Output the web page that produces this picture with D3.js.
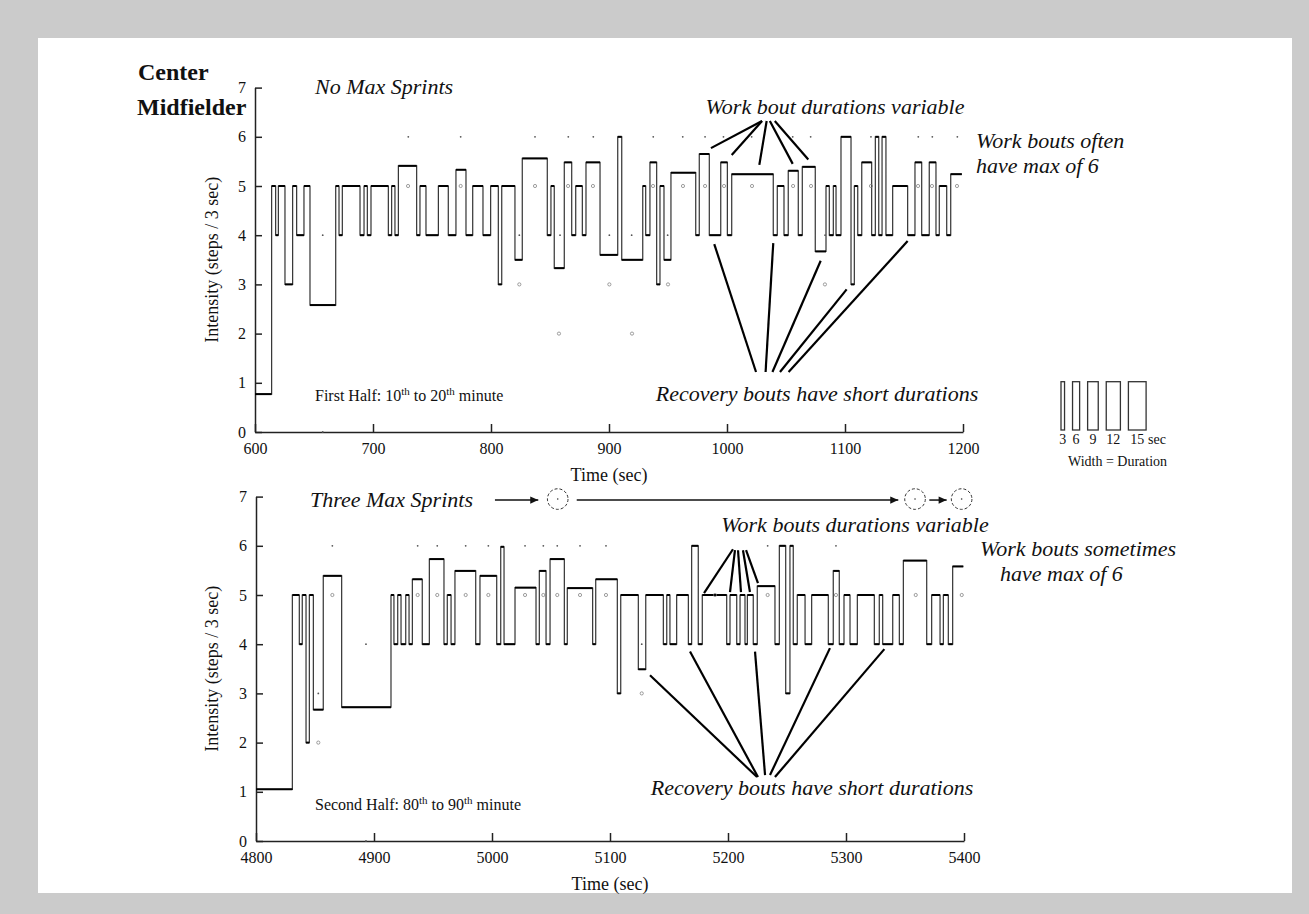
<!DOCTYPE html>
<html lang="en">
<head>
<meta charset="utf-8">
<title>Center Midfielder - work and recovery bouts</title>
<style>
body { margin: 0; background: #cbcbcb; }
svg text { font-family: "Liberation Serif", "Times New Roman", serif; fill: #111; }
.axis path, .axis line { fill: none; stroke: #222; stroke-width: 1.5; }
.axis text { font-size: 16px; font-family: "Liberation Serif", serif; fill: #111; }
.it { font-style: italic; font-size: 22px; }
</style>
</head>
<body>
<div id="chart"></div>
<script src="https://cdn.jsdelivr.net/npm/d3@7"></script>
<script>

// ---- first half (10th to 20th minute) ----
var topStart = [600, 614.1, 617.5, 619.8, 625.4, 631.9, 635.3, 641.5, 646.6, 668.4,
  671.2, 674.0, 689.0, 692.4, 695.2, 698.3, 713.0, 715.8, 718.6, 721.5,
  737.0, 739.8, 744.9, 755.4, 763.8, 770.3, 778.8, 784.5, 793.2, 799.7,
  806.2, 809.1, 820.3, 826.5, 847.7, 850.8, 853.6, 862.1, 868.4, 871.8,
  877.4, 880.5, 892.4, 907.4, 910.8, 928.6, 931.1, 934.7, 940.4, 943.2,
  946.6, 952.5, 973.5, 976.5, 985, 994.7, 1000.3, 1004, 1039.2, 1042.6,
  1048.3, 1051.9, 1060.4, 1063.8, 1074.8, 1083.9, 1086.7, 1090.1, 1092.4, 1096.6,
  1105.1, 1107.9, 1110.8, 1114.2, 1122.6, 1125.7, 1128.6, 1131.4, 1134.7, 1140.4,
  1153.1, 1159.3, 1165, 1171.4, 1177.1, 1179.9, 1186.2, 1189.6];
var topLevel = [0.77, 5, 4, 5, 3, 5, 4, 5, 2.58, 5,
  4, 5, 4, 5, 4, 5, 4, 5, 4, 5.41,
  4, 5, 4, 5, 4, 5.33, 4, 5, 4, 5,
  3, 5, 3.5, 5.56, 4, 5, 3.33, 5.48, 4, 5,
  4, 5.48, 3.6, 6, 3.5, 5, 4, 5.48, 3, 5,
  3.5, 5.27, 4, 5.65, 4, 5.48, 4, 5.24, 4, 5,
  4, 5.31, 4, 5.39, 3.67, 5, 4, 5, 4, 6,
  3, 5, 4, 5.48, 4, 6, 4, 6, 4, 5,
  4, 5.48, 4, 5.48, 4, 5, 4, 5.24];
var topEnd = 1199;
var topDots = [[657.4, 4], [657.4, 0], [729.9, 6], [774.3, 6], [824, 4], [837.3, 6], [858.5, 4],
  [865.5, 6], [886.7, 6], [900.3, 4], [919.2, 4], [937.5, 6], [949.7, 4], [962.5, 6],
  [981.4, 6], [997, 6], [1020.9, 6], [1055.7, 6], [1070.9, 6], [1083.1, 4], [1122, 6],
  [1162.1, 6], [1174, 6], [1195.2, 6]];
var topRings = [[729.7, 5], [774.3, 5], [824, 3], [837.3, 5], [857.6, 2], [865.3, 5],
  [886.4, 5], [900.3, 3], [919.5, 2], [937.3, 5], [950, 3], [962.7, 5], [981.4, 5],
  [997.5, 5], [1021.2, 5], [1056, 5], [1071.2, 5], [1083, 3], [1122, 5], [1161.9, 5],
  [1173.7, 5], [1194.9, 5]];
var topTicks = [600, 700, 800, 900, 1000, 1100, 1200];

// ---- second half (80th to 90th minute) ----
var botStart = [4800, 4830.8, 4836.7, 4839.2, 4842.4, 4845.2, 4848.6, 4857.0, 4872.6, 4914.4,
  4916.9, 4920.1, 4922.9, 4926.9, 4929.7, 4932.5, 4940.9, 4946.9, 4959.3, 4962.1,
  4965.3, 4968.6, 4986.2, 4989.8, 5004.0, 5007.4, 5010.2, 5019.5, 5037.3, 5040.1,
  5045.8, 5049.2, 5061.3, 5063.8, 5085.3, 5087.9, 5106.2, 5109.1, 5124.0, 5130.3,
  5145.2, 5148.1, 5150.8, 5156.5, 5166.4, 5169.2, 5174.8, 5178.2, 5198.9, 5201.7,
  5207.4, 5210.2, 5214.4, 5216.4, 5221.4, 5224.8, 5239.8, 5243.5, 5248.9, 5252.5,
  5255.3, 5258.7, 5265.3, 5270.9, 5285, 5289.2, 5294.3, 5298.3, 5303.4, 5309.6,
  5324, 5328.2, 5331.1, 5339.6, 5345.2, 5348.6, 5368.4, 5372.6, 5379.7, 5382.5,
  5386.7, 5390.4];
var botLevel = [1.05, 5, 4, 5, 2, 5, 2.67, 5.39, 2.72, 5,
  4, 5, 4, 5, 4, 5.32, 4, 5.73, 4, 5,
  4, 5.49, 4, 5.39, 4, 5.98, 4, 5.15, 4, 5.49,
  4, 5.73, 4, 5.14, 4, 5.32, 3, 5, 3.49, 5,
  4, 5, 4, 5, 4, 6, 4, 5, 4, 5,
  4, 5, 4, 5, 4, 5.18, 4, 6, 3, 6,
  4, 5, 4, 5, 4, 5.49, 4, 5, 4, 5,
  4, 5, 4, 5, 4, 5.7, 4, 5, 4, 5,
  4, 5.58];
var botEnd = 5399.4;
var botDots = [[4864.7, 6], [4937.0, 6], [4953.6, 6], [4977.7, 6], [4996.9, 6], [5028.0, 6],
  [5043.5, 6], [5055.3, 6], [5074.6, 6], [5096.6, 6], [5233.6, 6], [5291.5, 6],
  [4893.2, 4], [4893.2, 0], [5126.9, 4], [4852.8, 3]];
var botRings = [[4864.7, 5], [4937.0, 5], [4953.6, 5], [4977.7, 5], [4996.9, 5], [5028.0, 5],
  [5043.5, 5], [5055.3, 5], [5074.6, 5], [5096.6, 5], [5189, 5], [5233.6, 5], [5291.5, 5],
  [5359.1, 5], [5398.1, 5], [4852.8, 2], [5126.9, 3]];
var botTicks = [4800, 4900, 5000, 5100, 5200, 5300, 5400];
var sprints = [[5055.7, 6.95], [5358.5, 6.95], [5398, 6.95]];

var yTicks = [0, 1, 2, 3, 4, 5, 6, 7];
var legendDur = [3, 6, 9, 12, 15];

var svg = d3.select('#chart').append('svg')
  .attr('width', 1309)
  .attr('height', 914);
svg.append('rect').attr('width', 1309).attr('height', 914).attr('fill', '#cbcbcb');
svg.append('rect').attr('x', 38).attr('y', 38).attr('width', 1254).attr('height', 855).attr('fill', '#fff');

svg.append('defs').append('marker')
  .attr('id', 'arrow')
  .attr('viewBox', '0 0 10 10')
  .attr('refX', 10).attr('refY', 5)
  .attr('markerUnits', 'userSpaceOnUse')
  .attr('markerWidth', 11).attr('markerHeight', 8)
  .attr('orient', 'auto')
  .append('path').attr('d', 'M0,0.5L10,5L0,9.5z').attr('fill', '#111');

function panel(o) {
  var x = d3.scaleLinear().domain([o.ticks[0], o.ticks[o.ticks.length - 1]]).range(o.xr);
  var y = d3.scaleLinear().domain([0, 7]).range(o.yr);
  var g = svg.append('g');

  g.append('g').attr('class', 'axis')
    .attr('transform', 'translate(0,' + o.yr[0] + ')')
    .call(d3.axisBottom(x).tickValues(o.ticks).tickSizeInner(-8).tickSizeOuter(0)
      .tickPadding(11).tickFormat(d3.format('d')));
  g.append('g').attr('class', 'axis')
    .attr('transform', 'translate(' + o.xr[0] + ',0)')
    .call(d3.axisLeft(y).tickValues(yTicks).tickSizeInner(-7).tickSizeOuter(0)
      .tickPadding(9).tickFormat(d3.format('d')));

  // bouts as a step line, tops drawn heavier
  var pts = o.starts.map(function(s, i) { return [s, o.levels[i]]; });
  pts.push([o.end, o.levels[o.levels.length - 1]]);
  g.append('path').datum(pts)
    .attr('d', d3.line().x(d => x(d[0])).y(d => y(d[1])).curve(d3.curveStepAfter))
    .attr('fill', 'none').attr('stroke', '#333').attr('stroke-width', 1.2);
  g.selectAll('line.bout').data(o.starts).enter().append('line')
    .attr('x1', d => x(d))
    .attr('x2', (d, i) => x(i + 1 < o.starts.length ? o.starts[i + 1] : o.end))
    .attr('y1', (d, i) => y(o.levels[i]))
    .attr('y2', (d, i) => y(o.levels[i]))
    .attr('stroke', '#000').attr('stroke-width', 2);

  g.selectAll('circle.dot').data(o.dots).enter().append('circle')
    .attr('cx', d => x(d[0])).attr('cy', d => y(d[1])).attr('r', 0.9).attr('fill', '#555');
  g.selectAll('circle.ring').data(o.rings).enter().append('circle')
    .attr('cx', d => x(d[0])).attr('cy', d => y(d[1])).attr('r', 1.6)
    .attr('fill', 'none').attr('stroke', '#777').attr('stroke-width', 0.7);

  // annotation pointer lines, given in data units
  g.selectAll('line.ann').data(o.ann).enter().append('line')
    .attr('x1', d => x(d[0])).attr('y1', d => y(d[1]))
    .attr('x2', d => x(d[2])).attr('y2', d => y(d[3]))
    .attr('stroke', '#000').attr('stroke-width', 2.2);

  g.append('text')
    .attr('transform', 'translate(218,' + ((o.yr[0] + o.yr[1]) / 2) + ') rotate(-90)')
    .attr('text-anchor', 'middle').style('font-size', '18px')
    .text('Intensity (steps / 3 sec)');
  g.append('text')
    .attr('x', (o.xr[0] + o.xr[1]) / 2).attr('y', o.yr[0] + 49)
    .attr('text-anchor', 'middle').style('font-size', '18px')
    .text('Time (sec)');

  var half = g.append('text').attr('x', 315).attr('y', o.yr[0] - 31).style('font-size', '16px');
  half.append('tspan').text(o.half[0]);
  half.append('tspan').attr('dy', -6).style('font-size', '11px').text('th');
  half.append('tspan').attr('dy', 6).text(' to ' + o.half[1]);
  half.append('tspan').attr('dy', -6).style('font-size', '11px').text('th');
  half.append('tspan').attr('dy', 6).text(' minute');

  return { x: x, y: y, g: g };
}

var topP = panel({
  xr: [255, 963], yr: [432, 87.6],
  starts: topStart, levels: topLevel, end: topEnd, ticks: topTicks,
  dots: topDots, rings: topRings,
  half: ['First Half: 10', '20'],
  ann: [
    [1029.7, 6.32, 986.4, 5.77], [1029.7, 6.32, 1004, 5.63], [1033.6, 6.32, 1027.4, 5.43],
    [1036.3, 6.32, 1055.7, 5.45], [1040.5, 6.32, 1068.9, 5.54],
    [1024.6, 1.22, 989.2, 3.82], [1032.7, 1.22, 1039.2, 3.84], [1038.5, 1.22, 1079.4, 3.48],
    [1044.9, 1.22, 1101.4, 2.9], [1052.2, 1.22, 1153.1, 3.88]
  ]
});

var botP = panel({
  xr: [256, 964], yr: [841, 496.6],
  starts: botStart, levels: botLevel, end: botEnd, ticks: botTicks,
  dots: botDots, rings: botRings,
  half: ['Second Half: 80', '90'],
  ann: [
    [5204.2, 5.93, 5179.7, 5.04], [5205.9, 5.91, 5201.7, 5.06], [5208.5, 5.91, 5211, 5.06],
    [5212.7, 5.91, 5218.6, 5.06], [5215.3, 5.91, 5225.4, 5.24],
    [5224.6, 1.30, 5133.9, 3.37], [5225.4, 1.30, 5167.8, 3.85], [5231.4, 1.34, 5222.9, 3.85],
    [5235.6, 1.34, 5286.4, 3.92], [5239.8, 1.30, 5332.5, 3.9]
  ]
});

// max sprints (dashed rings at intensity 7)
botP.g.selectAll('circle.sprint').data(sprints).enter().append('circle')
  .attr('cx', d => botP.x(d[0])).attr('cy', d => botP.y(d[1])).attr('r', 10.3)
  .attr('fill', 'none').attr('stroke', '#333').attr('stroke-width', 1).attr('stroke-dasharray', '3,2');
botP.g.selectAll('circle.sprintc').data(sprints).enter().append('circle')
  .attr('cx', d => botP.x(d[0])).attr('cy', d => botP.y(d[1])).attr('r', 0.8).attr('fill', '#333');

var arrows = [[5002.5, 5039.2], [5071.8, 5344.3], [5370.6, 5385.3]];
botP.g.selectAll('line.arr').data(arrows).enter().append('line')
  .attr('x1', d => botP.x(d[0])).attr('x2', d => botP.x(d[1]))
  .attr('y1', botP.y(6.93)).attr('y2', botP.y(6.93))
  .attr('stroke', '#111').attr('stroke-width', 1.5).attr('marker-end', 'url(#arrow)');

// labels
svg.append('text').attr('x', 138).attr('y', 80).style('font-weight', 'bold').style('font-size', '24px').text('Center');
svg.append('text').attr('x', 137).attr('y', 115).style('font-weight', 'bold').style('font-size', '24px').text('Midfielder');

function note(x, y, s, anchor) {
  svg.append('text').attr('class', 'it').attr('x', x).attr('y', y)
    .attr('text-anchor', anchor || 'start').text(s);
}
note(315, 94, 'No Max Sprints');
note(835, 114, 'Work bout durations variable', 'middle');
note(976, 148, 'Work bouts often');
note(976, 173, 'have max of 6');
note(817, 401, 'Recovery bouts have short durations', 'middle');

note(310, 507, 'Three Max Sprints');
note(855, 532, 'Work bouts durations variable', 'middle');
note(980, 556, 'Work bouts sometimes');
note(1000, 581, 'have max of 6');
note(812, 795, 'Recovery bouts have short durations', 'middle');

// width legend
var k = topP.x(600 + 1) - topP.x(600);
var lx = [];
var cur = 1061;
legendDur.forEach(function(d) { lx.push(cur); cur += d * k + 8; });
var leg = svg.append('g');
leg.selectAll('rect').data(legendDur).enter().append('rect')
  .attr('x', (d, i) => lx[i]).attr('y', 381.7)
  .attr('width', d => d * k).attr('height', 48.3)
  .attr('fill', 'none').attr('stroke', '#333').attr('stroke-width', 1.3);
leg.selectAll('text.lab').data(legendDur).enter().append('text')
  .attr('x', (d, i) => lx[i] + d * k / 2).attr('y', 444)
  .attr('text-anchor', 'middle').style('font-size', '14px')
  .text(d => d);
leg.append('text').attr('x', 1148).attr('y', 444).style('font-size', '14px').text('sec');
leg.append('text').attr('x', 1068).attr('y', 466).style('font-size', '14px').text('Width = Duration');

</script>
</body>
</html>
